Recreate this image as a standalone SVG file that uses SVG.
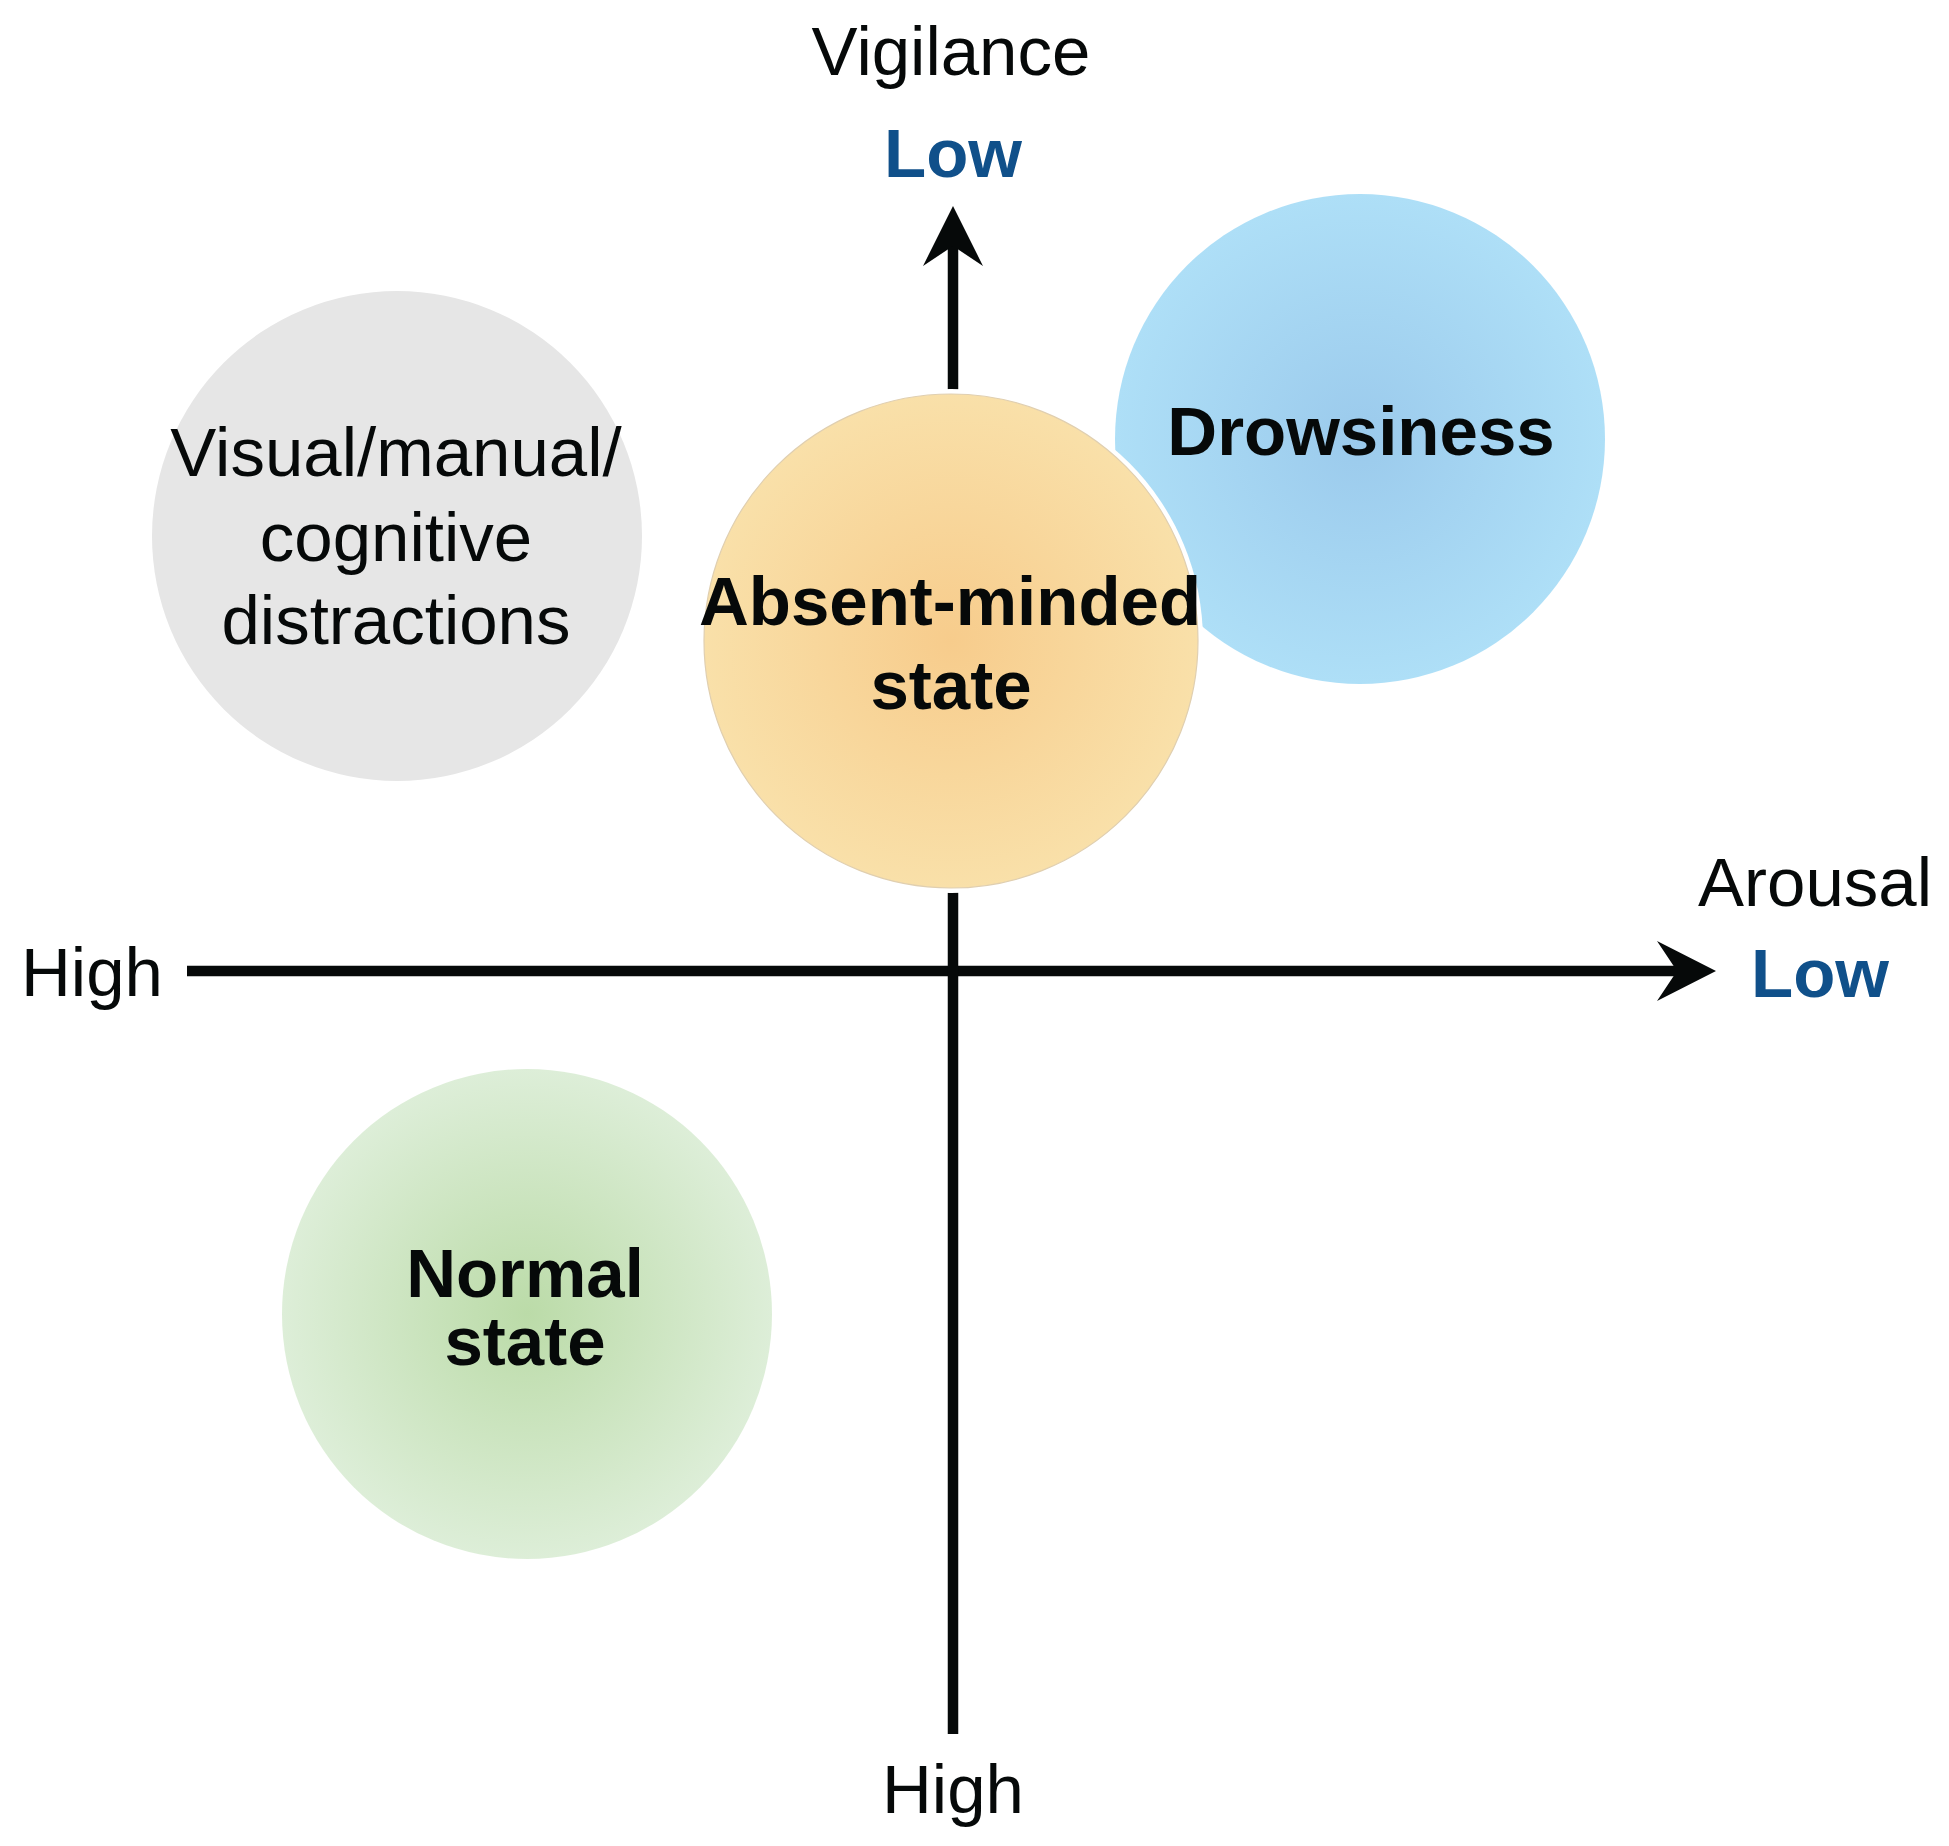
<svg xmlns="http://www.w3.org/2000/svg" width="1949" height="1846" viewBox="0 0 1949 1846">
<defs>
<style>
.t{font-family:"Liberation Sans",Arial,sans-serif;font-size:69px;fill:#060909;text-anchor:middle}
.b{font-weight:bold}
.lo{fill:#10508A;font-weight:bold}
.ax{stroke:#060909;stroke-width:10.5;fill:none}
.ah{fill:#060909}
</style>
<radialGradient id="gBlue" cx="50%" cy="50%" r="50%">
<stop offset="0" stop-color="#9bcaec"/>
<stop offset="1" stop-color="#aedff7"/>
</radialGradient>
<radialGradient id="gOrange" cx="50%" cy="50%" r="50%">
<stop offset="0" stop-color="#f7cc8c"/>
<stop offset="1" stop-color="#f9e0a9"/>
</radialGradient>
<radialGradient id="gGreen" cx="50%" cy="50%" r="50%">
<stop offset="0" stop-color="#bbdba8"/>
<stop offset="1" stop-color="#ddeed8"/>
</radialGradient>
</defs>
<rect width="1949" height="1846" fill="#ffffff"/>

<g id="connectors">
<line class="ax" x1="187" y1="971" x2="1680" y2="971"/>
<path class="ah" d="M1716,971 L1657,941 L1677,971 L1657,1001 Z"/>
<line class="ax" x1="953" y1="1734" x2="953" y2="242"/>
<path class="ah" d="M953,206 L923,266 L953,246 L983,266 Z"/>
</g>

<g id="node-distractions">
<circle cx="397" cy="536" r="245" fill="#e6e6e6"/>
<text class="t" x="396" y="476">Visual/manual/</text>
<text class="t" x="396" y="561">cognitive</text>
<text class="t" x="396" y="644">distractions</text>
</g>

<g id="node-drowsiness">
<circle cx="1360" cy="439" r="245" fill="url(#gBlue)"/>
<text class="t b" x="1361" y="455">Drowsiness</text>
</g>

<g id="node-absent">
<circle cx="951" cy="641" r="252" fill="#ffffff"/>
<circle cx="951" cy="641" r="247" fill="url(#gOrange)" stroke="#e0cfb0" stroke-width="1.2"/>
<text class="t b" x="950" y="625">Absent-minded</text>
<text class="t b" x="951" y="709">state</text>
</g>

<g id="node-normal">
<circle cx="527" cy="1314" r="245" fill="url(#gGreen)"/>
<text class="t b"><tspan x="525" y="1297">Normal</tspan><tspan x="525" y="1365">state</tspan></text>
</g>

<g id="labels">
<text class="t" x="951" y="75">Vigilance</text>
<text class="t lo" x="953" y="177">Low</text>
<text class="t" x="1815" y="906">Arousal</text>
<text class="t lo" x="1820" y="997">Low</text>
<text class="t" x="92" y="996">High</text>
<text class="t" x="953" y="1813">High</text>
</g>
</svg>
